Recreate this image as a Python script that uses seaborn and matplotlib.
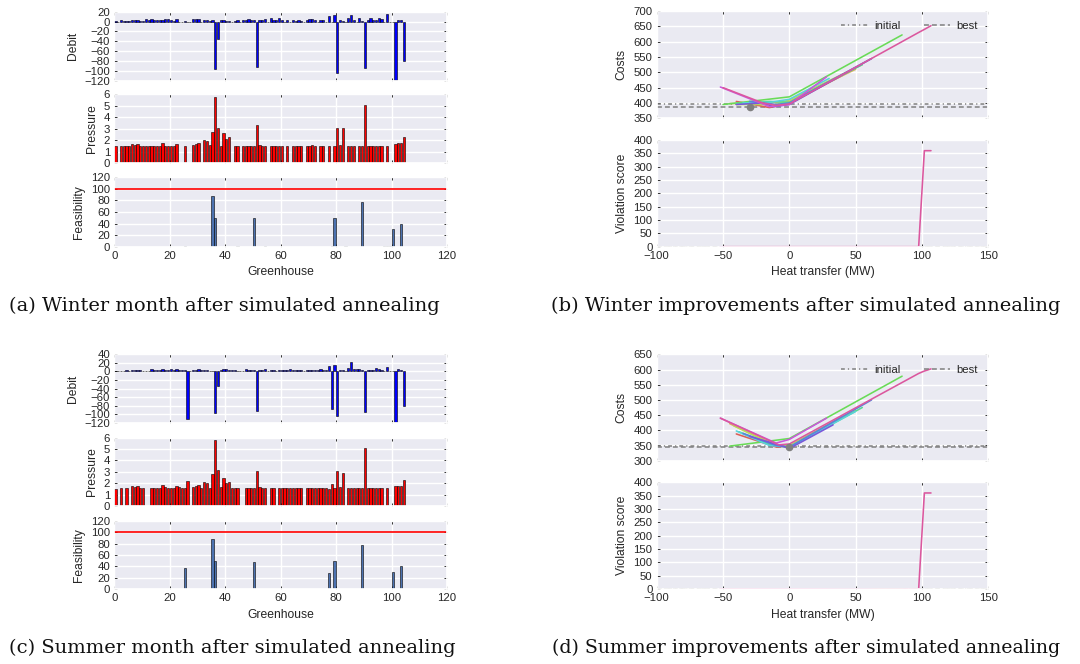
import matplotlib
matplotlib.use("Agg")
import matplotlib.pyplot as plt
import numpy as np
import pandas as pd
import seaborn as sns

# ---------------- data ----------------
greenhouse = list(range(105))

winter_debit = [1, 0, 3, 2, 2, 1, 4, 3, 4, 2,
                2, 5, 3, 5, 3, 3, 3, 4, 6, 5,
                3, 2, 5, 0, 0, 2, 0, 0, 6, 5,
                5, 0, 3, 3, 2, 3, -96, -35, 4, 3,
                2, 2, 0, 2, 3, 0, 3, 4, 5, 4,
                3, -93, 4, 3, 5, 0, 7, 4, 3, 7,
                3, 0, 3, 0, 3, 2, 3, 2, 0, 3,
                5, 5, 3, 0, 4, 3, 0, 12, 0, 14,
                -104, 4, 2, 0, 8, 13, 4, 0, 8, 2,
                -95, 3, 8, 4, 3, 7, 6, 0, 16, 0,
                0, -118, 4, 4, -80]
winter_pressure = [1.5, 0, 1.5, 1.5, 1.5, 1.5, 1.65, 1.55, 1.65, 1.5,
                   1.5, 1.5, 1.5, 1.5, 1.5, 1.5, 1.5, 1.8, 1.5, 1.5,
                   1.5, 1.5, 1.72, 0, 0, 1.5, 0, 0, 1.62, 1.65,
                   1.8, 0, 2.0, 1.9, 1.55, 2.7, 5.8, 3.1, 1.5, 2.65,
                   2.15, 2.3, 0, 1.5, 1.5, 0, 1.5, 1.5, 1.5, 1.5,
                   1.5, 3.3, 1.55, 1.5, 1.5, 0, 1.5, 1.5, 1.5, 1.5,
                   1.5, 0, 1.5, 0, 1.5, 1.5, 1.5, 1.5, 0, 1.5,
                   1.5, 1.55, 1.5, 0, 1.5, 1.5, 0, 1.5, 0, 1.5,
                   3.1, 1.55, 3.1, 0, 1.5, 1.5, 1.5, 0, 1.5, 1.5,
                   5.1, 1.5, 1.5, 1.5, 1.5, 1.5, 1.5, 0, 1.5, 0,
                   0, 1.7, 1.8, 1.75, 2.3]
winter_feas_idx = [25, 35, 36, 44, 50, 54, 78, 79, 83, 89, 97, 98, 99, 100, 103]
winter_feas_val = [1, 88, 50, 1, 50, 1, 1, 49, 1, 77, 1, 1, 1, 30, 40]

summer_debit = [1, 0, 2, 0, 3, 0, 4, 4, 4, 3,
                2, 0, 0, 5, 3, 4, 3, 5, 4, 3,
                5, 4, 5, 3, 4, 4, -112, 0, 4, 4,
                5, 3, 4, 3, 2, 2, -97, -35, 4, 5,
                5, 3, 3, 4, 2, 0, 0, 6, 3, 3,
                3, -93, 4, 3, 5, 0, 3, 3, 0, 4,
                3, 3, 3, 6, 3, 4, 4, 3, 0, 3,
                4, 4, 3, 4, 5, 3, 3, 12, -88, 14,
                -104, 4, 4, 0, 7, 22, 5, 5, 6, 3,
                -95, 3, 4, 3, 8, 6, 4, 0, 10, 0,
                0, -118, 6, 4, -80]
summer_pressure = [1.5, 0, 1.55, 0, 1.55, 0, 1.75, 1.65, 1.75, 1.6,
                   1.6, 0, 0, 1.6, 1.6, 1.6, 1.6, 1.85, 1.65, 1.55,
                   1.6, 1.6, 1.8, 1.65, 1.6, 1.6, 2.2, 0, 1.7, 1.75,
                   1.85, 1.6, 2.1, 2.0, 1.6, 2.8, 5.8, 3.15, 1.65, 2.5,
                   2.0, 2.15, 1.55, 1.55, 1.55, 0, 0, 1.55, 1.55, 1.6,
                   1.55, 3.1, 1.65, 1.55, 1.55, 0, 1.55, 1.55, 0, 1.55,
                   1.55, 1.55, 1.55, 1.55, 1.55, 1.55, 1.55, 1.55, 0, 1.55,
                   1.55, 1.55, 1.55, 1.55, 1.55, 1.55, 1.55, 1.5, 1.9, 1.55,
                   3.1, 1.65, 2.9, 0, 1.55, 1.55, 1.55, 1.55, 1.55, 1.55,
                   5.1, 1.55, 1.55, 1.55, 1.55, 1.6, 1.6, 0, 1.55, 0,
                   0, 1.75, 1.8, 1.75, 2.25]
summer_feas_idx = [25, 35, 36, 44, 50, 54, 77, 79, 83, 89, 97, 98, 99, 100, 103]
summer_feas_val = [37, 88, 50, 1, 47, 1, 29, 50, 1, 78, 1, 1, 1, 30, 40]

feasibility_limit = 100

# improvement runs (heat transfer MW, costs, violation score)
winter_heat = [[-40, -15, 0, 40],
               [-45, -20, 0, 50],
               [-40, -10, 0, 55],
               [-50, 0, 85],
               [-40, -15, 0, 55],
               [-35, -15, 0, 30],
               [-30, -10, 0, 62],
               [-40, -20, -12, 0, 62],
               [-52, -15, 0, 28],
               [-50, -20, -10, 0, 97.5, 101.8, 106.8]]
winter_cost = [[405, 385, 398, 490],
               [398, 400, 405, 510],
               [395, 395, 410, 525],
               [395, 420, 622],
               [398, 405, 402, 525],
               [400, 402, 412, 480],
               [405, 395, 400, 545],
               [395, 400, 388, 395, 545],
               [452, 388, 395, 485],
               [450, 400, 392, 397, 630, 640, 652]]
winter_viol = [[0, 0, 0, 0],
               [0, 0, 0, 0],
               [0, 0, 0, 0],
               [0, 0, 0],
               [0, 0, 0, 0],
               [0, 0, 0, 0],
               [0, 0, 0, 0],
               [0, 0, 0, 0, 0],
               [0, 0, 0, 0],
               [0, 0, 0, 0, 0, 360, 360]]
winter_initial = 398
winter_best = 388
winter_best_heat = -30

summer_heat = [[-40, -10, 0, 40],
               [-45, -10, 0, 45],
               [-42, -12, 0, 50],
               [-45, 0, 85],
               [-38, -15, 0, 55],
               [-40, -15, 0, 50],
               [-35, -10, 0, 62],
               [-30, -5, 0, 33],
               [-52, -10, 0, 28],
               [-52, -8, 0, 97.5, 101.8, 106.8]]
summer_cost = [[388, 345, 348, 445],
               [422, 350, 345, 455],
               [415, 352, 350, 465],
               [348, 373, 578],
               [395, 355, 343, 475],
               [398, 350, 345, 462],
               [390, 350, 345, 500],
               [380, 348, 340, 418],
               [440, 358, 370, 440],
               [440, 352, 355, 587, 595, 602]]
summer_viol = [[0, 0, 0, 0],
               [0, 0, 0, 0],
               [0, 0, 0, 0],
               [0, 0, 0],
               [0, 0, 0, 0],
               [0, 0, 0, 0],
               [0, 0, 0, 0],
               [0, 0, 0, 0],
               [0, 0, 0, 0],
               [0, 0, 0, 0, 360, 360]]
summer_initial = 347
summer_best = 345
summer_best_heat = 0

captions = ["(a) Winter month after simulated annealing",
            "(b) Winter improvements after simulated annealing",
            "(c) Summer month after simulated annealing",
            "(d) Summer improvements after simulated annealing"]

# ---------------- style ----------------
sns.set_theme(style="darkgrid")
plt.rcParams['font.family'] = ['Liberation Sans', 'DejaVu Sans']
plt.rcParams['axes.labelcolor'] = '#262626'
plt.rcParams['xtick.color'] = '#262626'
plt.rcParams['ytick.color'] = '#262626'

W, H = 1080, 664
fig = plt.figure(figsize=(10.8, 6.64), dpi=100)


def rect(x0, x1, y0, y1):
    return [x0 / W, 1 - y1 / H, (x1 - x0) / W, (y1 - y0) / H]


def style_ax(ax, show_x=True):
    ax.tick_params(axis='both', which='major', direction='in', length=2.5, width=0.7,
                   color='#333333', labelsize=8.2, pad=3,
                   top=True, right=True, left=True, bottom=True)
    if not show_x:
        ax.tick_params(axis='x', labelbottom=False)


def left_panel(ys, debit, pressure, fidx, fval, debit_ticks):
    x0, x1 = 114.3, 447
    ax1 = fig.add_axes(rect(x0, x1, *ys[0]))
    ax2 = fig.add_axes(rect(x0, x1, *ys[1]))
    ax3 = fig.add_axes(rect(x0, x1, *ys[2]))
    ax1.bar(greenhouse, debit, width=0.8, align='edge', color='#0000ff',
            edgecolor='black', linewidth=0.4)
    ax2.bar(greenhouse, pressure, width=0.8, align='edge', color='#ff0000',
            edgecolor='black', linewidth=0.4)
    ax3.bar(fidx, fval, width=0.8, align='edge', color='#4C72B0',
            edgecolor='black', linewidth=0.4)
    ax3.axhline(feasibility_limit, color='#ff0000', lw=1.2)
    for ax in (ax1, ax2, ax3):
        ax.set_xlim(0, 120)
        ax.set_xticks(range(0, 121, 20))
    ax1.set_ylim(debit_ticks[0], debit_ticks[-1])
    ax1.set_yticks(debit_ticks)
    ax2.set_ylim(0, 6)
    ax2.set_yticks(range(0, 7))
    ax3.set_ylim(0, 120)
    ax3.set_yticks(range(0, 121, 20))
    ax1.set_ylabel("Debit", fontsize=8.7)
    ax2.set_ylabel("Pressure", fontsize=8.7)
    ax3.set_ylabel("Feasibility", fontsize=8.7)
    ax3.set_xlabel("Greenhouse", fontsize=8.7)
    style_ax(ax1, False)
    style_ax(ax2, False)
    style_ax(ax3, True)


def build_df(heat, cost, viol):
    rows = []
    for k, (h, c, v) in enumerate(zip(heat, cost, viol)):
        for hh, cc, vv in zip(h, c, v):
            rows.append({'run': k, 'heat': hh, 'cost': cc, 'viol': vv})
    return pd.DataFrame(rows)


def right_panel(ys, heat, cost, viol, initial, best, best_heat, ylim):
    x0, x1 = 656.7, 988.3
    ax1 = fig.add_axes(rect(x0, x1, *ys[0]))
    ax2 = fig.add_axes(rect(x0, x1, *ys[1]))
    df = build_df(heat, cost, viol)
    pal = sns.color_palette('hls', len(heat))
    init_ls = (0, (2.5, 2.0, 0.8, 2.0))
    best_ls = (0, (3.2, 2.0))
    for ax, col, i_val, b_val in ((ax1, 'cost', initial, best), (ax2, 'viol', 0, 0)):
        h_i = ax.axhline(i_val, color='#808080', ls=init_ls, lw=1.1, label='initial')
        h_b = ax.axhline(b_val, color='#808080', ls=best_ls, lw=1.1, label='best')
        sns.lineplot(data=df, x='heat', y=col, hue='run', palette=pal, estimator=None,
                     sort=False, lw=1.15, legend=False, ax=ax)
        if ax is ax1:
            ax.plot([best_heat], [best], 'o', color='#808080', ms=4.5, zorder=5)
            ax.legend(handles=[h_i, h_b], loc='upper right', ncol=2, frameon=False,
                      fontsize=8.2, handlelength=2.3, columnspacing=2.0,
                      handletextpad=0.6)
        ax.set_xlim(-100, 150)
        ax.set_xticks(range(-100, 151, 50))
    ax1.set_ylim(*ylim)
    ax1.set_yticks(range(ylim[0], ylim[1] + 1, 50))
    ax2.set_ylim(0, 400)
    ax2.set_yticks(range(0, 401, 50))
    ax1.set_xlabel("")
    ax1.set_ylabel("Costs", fontsize=8.7)
    ax2.set_ylabel("Violation score", fontsize=8.7)
    ax2.set_xlabel("Heat transfer (MW)", fontsize=8.7)
    style_ax(ax1, False)
    style_ax(ax2, True)


left_panel([(11.7, 80.7), (94.3, 163.3), (177.3, 246.7)],
           winter_debit, winter_pressure, winter_feas_idx, winter_feas_val,
           list(range(-120, 21, 20)))
left_panel([(354.3, 422.7), (437.7, 506), (520.7, 589.3)],
           summer_debit, summer_pressure, summer_feas_idx, summer_feas_val,
           list(range(-120, 41, 20)))
right_panel([(11, 118.3), (140, 246.7)], winter_heat, winter_cost, winter_viol,
            winter_initial, winter_best, winter_best_heat, (350, 700))
right_panel([(354.3, 460.7), (482.3, 589)], summer_heat, summer_cost, summer_viol,
            summer_initial, summer_best, summer_best_heat, (300, 650))

cap_pos = [(224.5, 306), (806, 306), (232, 648), (806, 648)]
cap_size = [14, 14, 14, 13.6]
for (cx, cy), txt, fs in zip(cap_pos, captions, cap_size):
    fig.text(cx / W, 1 - cy / H, txt, ha='center', va='center',
             fontsize=fs, family='DejaVu Serif', color='#111111')

fig.savefig("out.png", dpi=100)
